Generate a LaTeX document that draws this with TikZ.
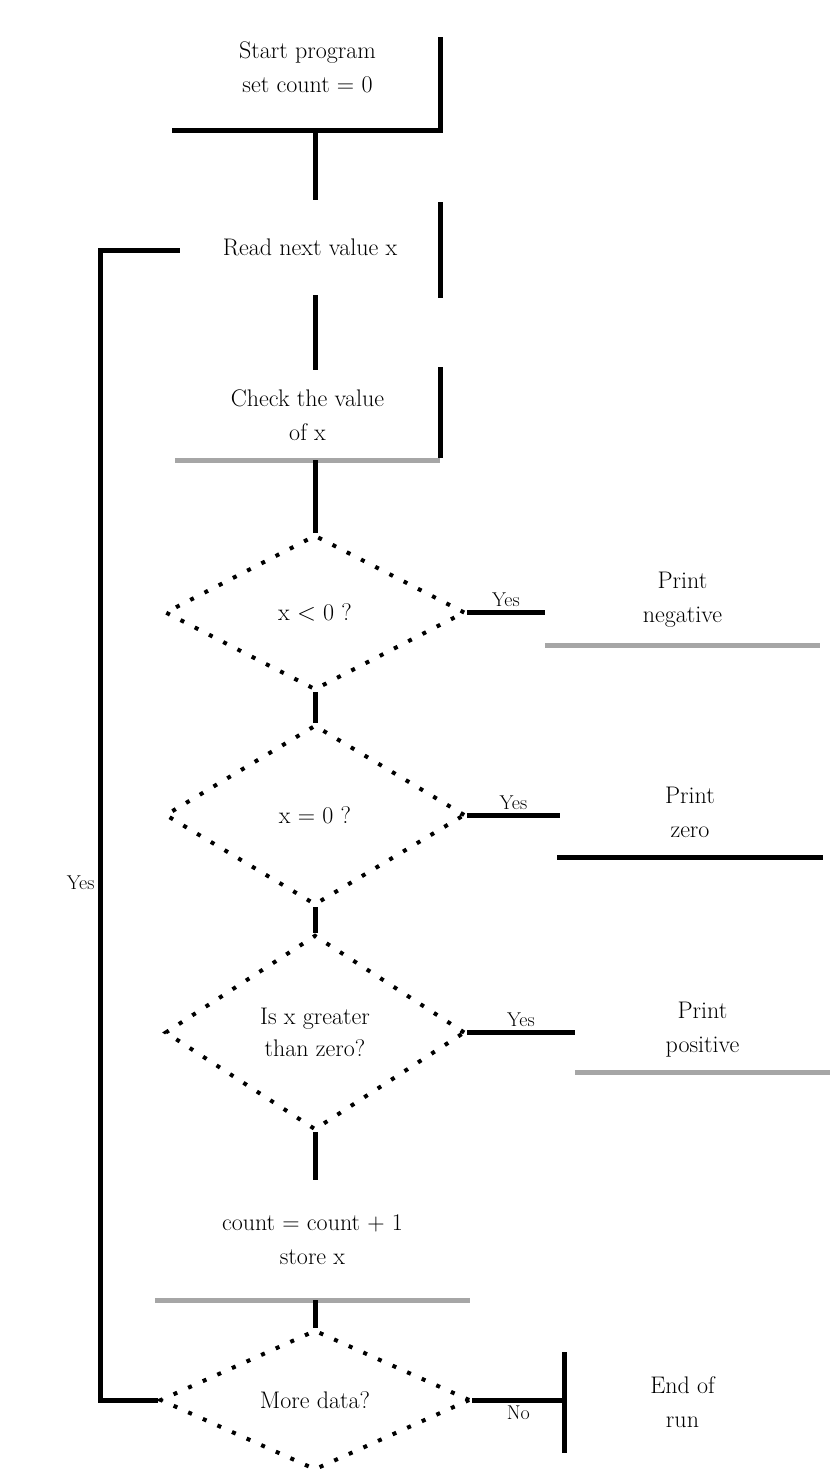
\documentclass[tikz,border=0pt]{standalone}
\usetikzlibrary{shapes.geometric}
\begin{document}
\begin{tikzpicture}[x=1pt,y=-1pt,
  conn/.style={line width=5pt, black},
  bside/.style={line width=5pt, black, line cap=rect},
  gside/.style={line width=5pt, black!35},
  txt/.style={align=center, font=\fontsize{24}{34}\selectfont, inner sep=0pt},
  boxn/.style={txt, rectangle},
  dia/.style={diamond, draw, line width=4pt, dash pattern=on 4pt off 12pt, inner sep=0pt, align=center, font=\fontsize{24}{32}\selectfont, minimum width=300pt},
  lbl/.style={font=\fontsize{20}{24}\selectfont, inner sep=3pt}
]
\useasboundingbox (0,0) rectangle (839,1478);

% main column boxes
\node[boxn, minimum width=265pt, minimum height=125pt] (b1) at (307.5,67.5) {Start program\\set count = 0};
\node[boxn, minimum width=260pt, minimum height=95pt] (b2) at (310,247.5) {Read next value x};
\node[boxn, minimum width=265pt, minimum height=90pt] (b3) at (307.5,415) {Check the value\\of x};
\node[dia, minimum height=155pt] (d1) at (315,612.5) {x $<$ 0 ?};
\node[dia, minimum height=180pt] (d2) at (315,815) {x = 0 ?};
\node[dia, minimum height=195pt] (d3) at (315,1032.5) {Is x greater\\than zero?};
\node[boxn, minimum width=315pt, minimum height=120pt] (b5) at (312.5,1240) {count = count + 1\\store x};
\node[dia, minimum width=310pt, minimum height=140pt] (d4) at (315,1400) {More data?};

% right column boxes
\node[boxn, minimum width=275pt, minimum height=90pt] (r1) at (682.5,600) {Print\\negative};
\node[boxn, minimum width=260pt, minimum height=90pt] (r2) at (690,812) {Print\\zero};
\node[boxn, minimum width=255pt, minimum height=85pt] (r3) at (702.5,1030) {Print\\positive};
\node[boxn, minimum width=235pt, minimum height=95pt] (r4) at (682.5,1402.5) {End of\\run};

% visible box sides
\draw[bside] ([yshift=-35pt]b1.north east) -- (b1.south east) -- (b1.south west);
\draw[bside] ([yshift=-5pt]b2.north east) -- (b2.south east);
\draw[bside] (b3.north east) -- ([yshift=5pt]b3.south east);
\draw[gside] (b3.south west) -- (b3.south east);
\draw[gside] (b5.south west) -- (b5.south east);
\draw[gside] (r1.south west) -- (r1.south east);
\draw[bside] (r2.south west) -- (r2.south east);
\draw[gside] (r3.south west) -- (r3.south east);
\draw[bside] (r4.north west) -- (r4.south west);

% connectors
\draw[conn] (b1.south -| d1.north) -- (b2.north -| d1.north);
\draw[conn] (b2.south -| d1.north) -- (b3.north -| d1.north);
\draw[conn] (b3.south -| d1.north) -- (d1.north);
\draw[conn] (d1) -- (d2);
\draw[conn] (d2) -- (d3);
\draw[conn] (d3.south) -- (b5.north -| d3.south);
\draw[conn] (b5.south -| d4.north) -- (d4.north);
\draw[conn] (d1.east) -- node[lbl, above] {Yes} (r1.west |- d1.east);
\draw[conn] (d2.east) -- node[lbl, above] {Yes} (r2.west |- d2.east);
\draw[conn] (d3.east) -- node[lbl, above] {Yes} (r3.west |- d3.east);
\draw[conn] (d4.east) -- node[lbl, below] {No} (r4.west |- d4.east);
\coordinate (lb) at (100,1400);
\coordinate (lt) at (100,250);
\draw[conn] (d4.west) -- (lb) -- node[lbl, left, pos=0.45] {Yes} (lt) -- (b2.west |- lt);
\end{tikzpicture}
\end{document}
